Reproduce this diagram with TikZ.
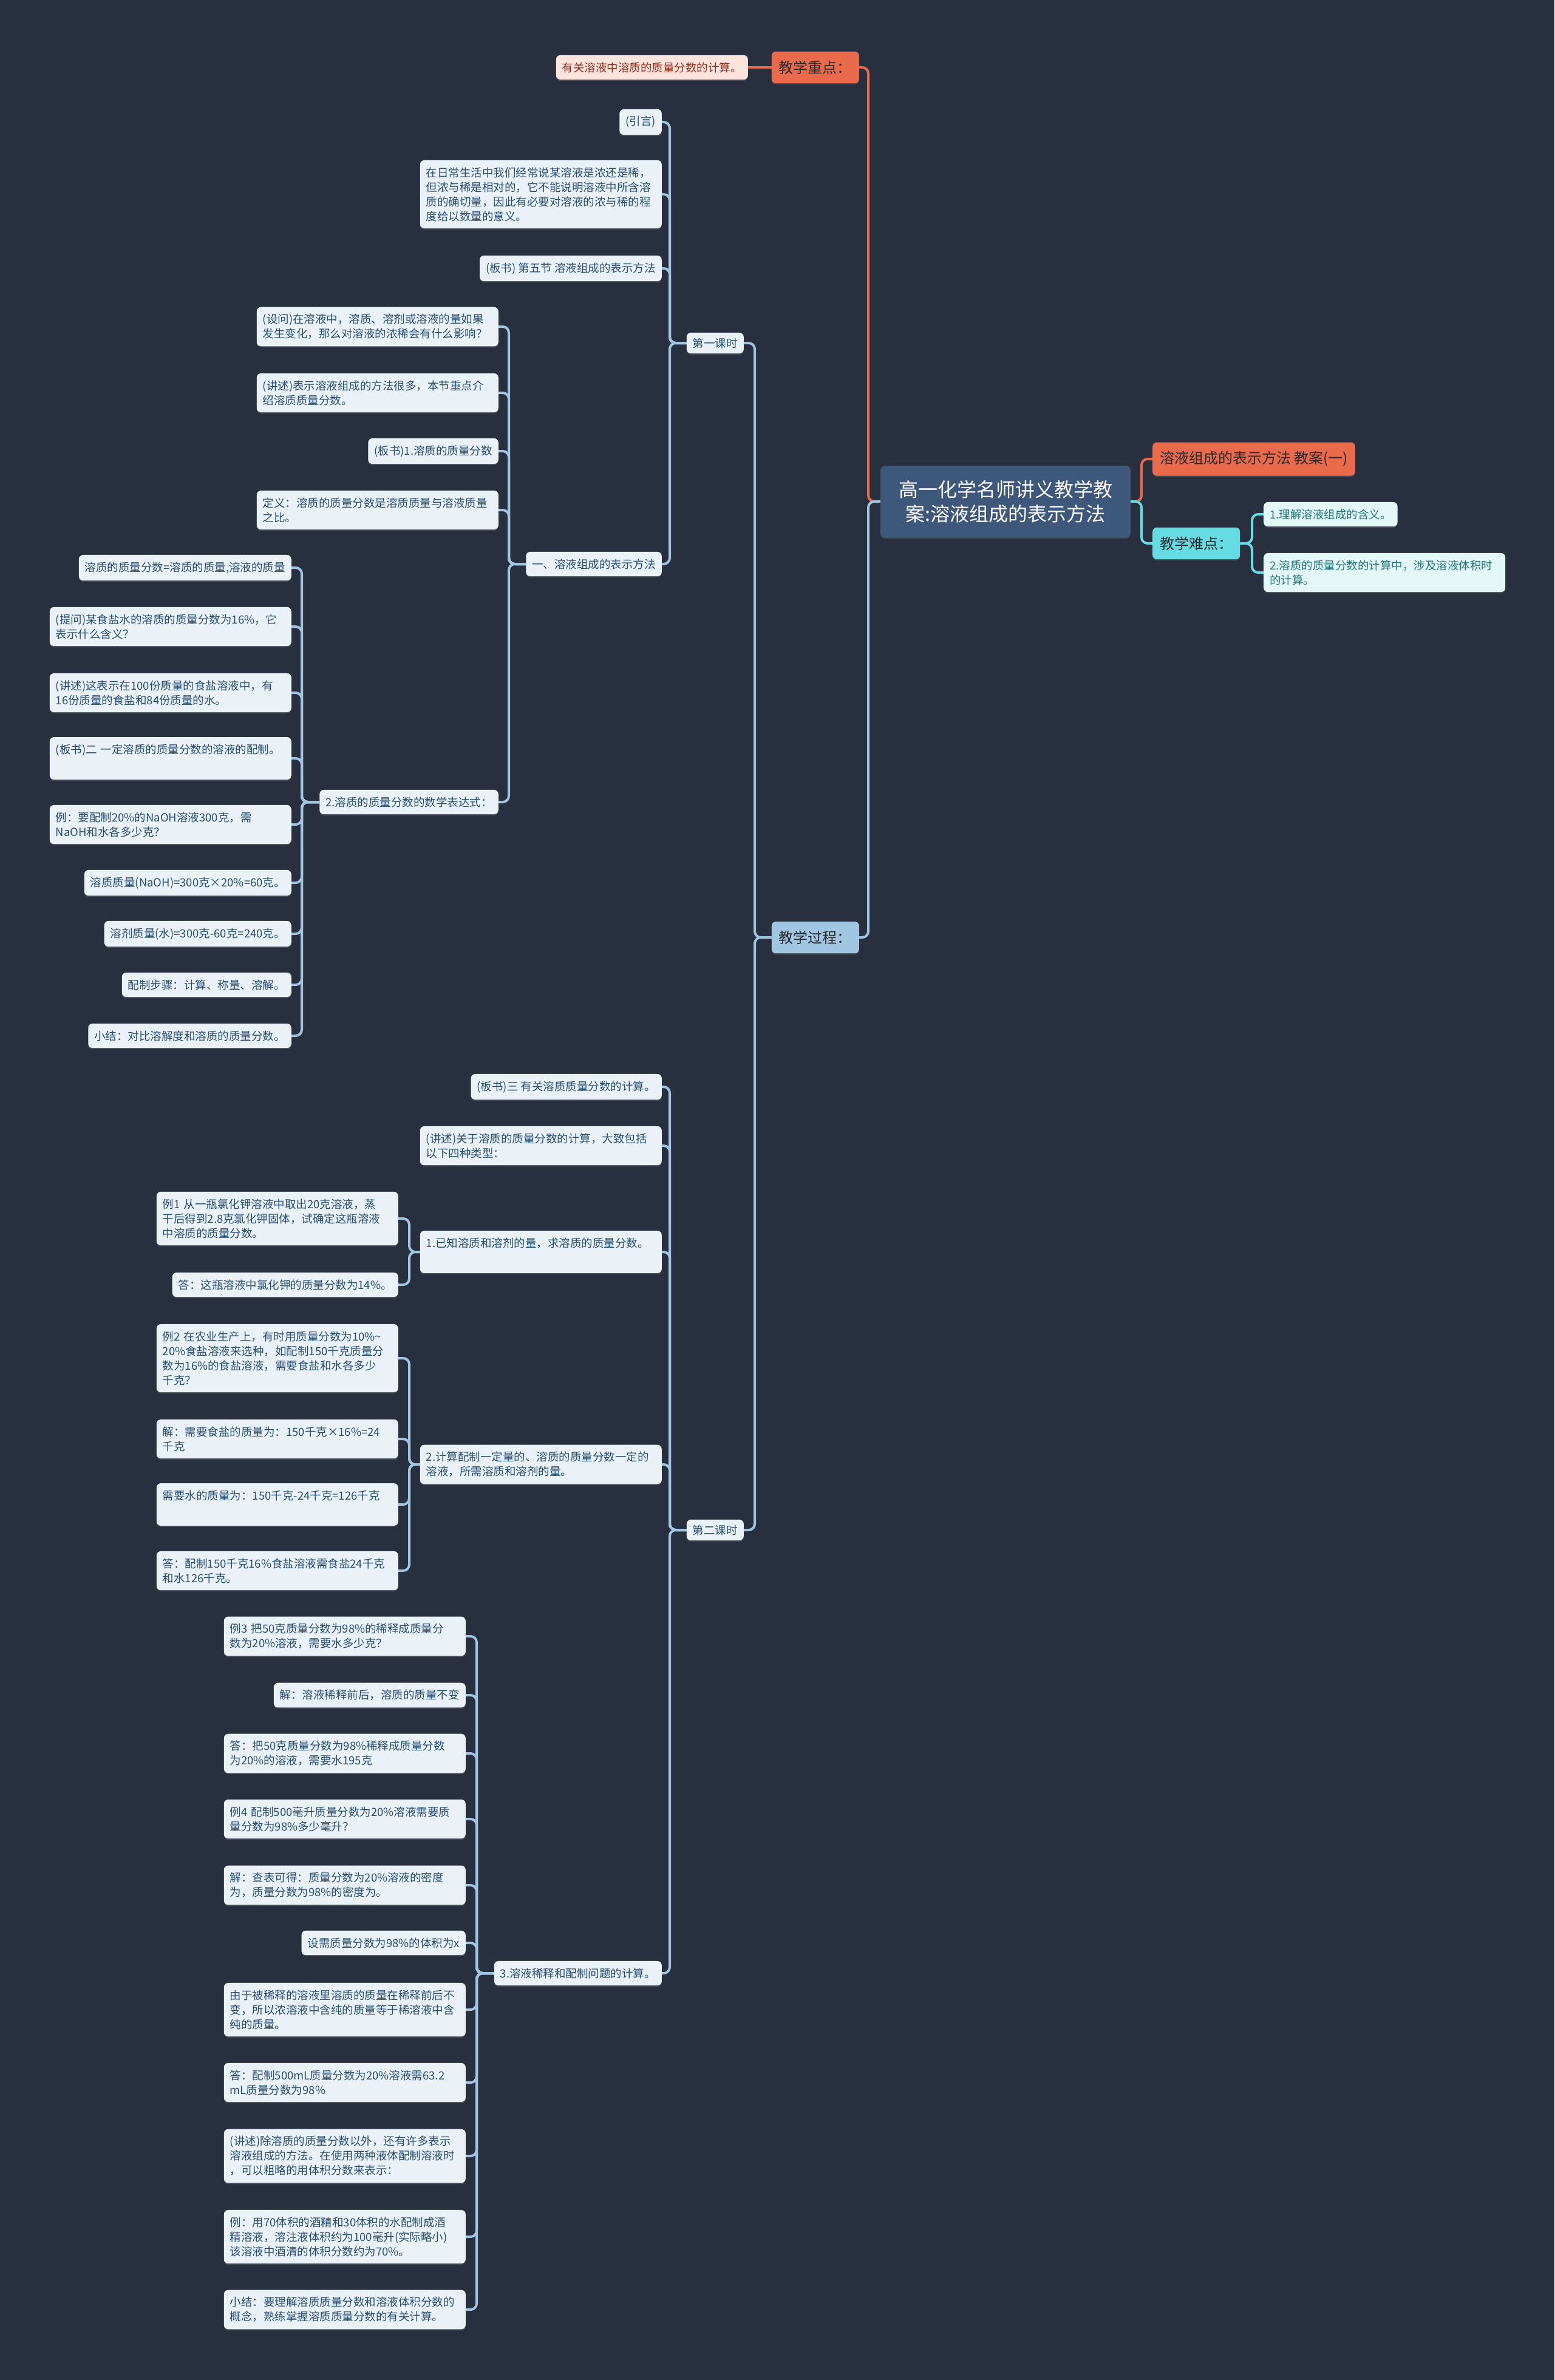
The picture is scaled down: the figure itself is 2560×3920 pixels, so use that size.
\documentclass[tikz,border=0pt]{standalone}
\usepackage{fontspec}
\setmainfont{Noto Sans CJK SC}
\usepackage{tikz}
\usetikzlibrary{positioning, shadows}
\definecolor{mapbg}{RGB}{40,48,63}
\definecolor{rootfill}{RGB}{62,88,124}
\definecolor{maporange}{RGB}{234,106,76}
\definecolor{mappink}{RGB}{253,228,220}
\definecolor{pinktext}{RGB}{140,45,28}
\definecolor{mapcyan}{RGB}{100,220,226}
\definecolor{cyanfill}{RGB}{229,248,248}
\definecolor{cyantext}{RGB}{32,118,124}
\definecolor{mapblue}{RGB}{160,198,225}
\definecolor{bluefill}{RGB}{234,242,248}
\definecolor{bluetext}{RGB}{40,78,112}
\definecolor{linkblue}{RGB}{160,197,226}
\definecolor{darktext}{RGB}{38,40,46}
\tikzset{
  %% ---- boxes ----
  rootbox/.style = {rectangle, rounded corners=8pt, fill=rootfill,
                    text=white, align=center, minimum width=412pt,
                    minimum height=118pt, font=\fontsize{32}{40}\selectfont,
                    drop shadow={shadow xshift=0pt, shadow yshift=-2pt, opacity=.35}},
  topic/.style   = {rectangle, rounded corners=7pt, fill=#1,
                    text=darktext, inner xsep=12pt, inner ysep=15pt,
                    font=\fontsize{24}{30}\selectfont,
                    drop shadow={shadow xshift=0pt, shadow yshift=-2pt, opacity=.35}},
  leaf/.style    = {rectangle, rounded corners=7pt, fill=bluefill,
                    text=bluetext, inner xsep=10pt, inner ysep=11.5pt,
                    font=\fontsize{18.5}{24}\selectfont, anchor=east,
                    drop shadow={shadow xshift=0pt, shadow yshift=-2pt, opacity=.35}},
  wide/.style    = {text width=378pt, align=left},
  lesson/.style  = {leaf, inner ysep=8.5pt},
  pinkleaf/.style = {leaf, fill=mappink, text=pinktext},
  cyanleaf/.style = {leaf, fill=cyanfill, text=cyantext, anchor=west},
}
\begin{document}
\begin{tikzpicture}[x=1pt, y=-1pt,
  link/.style = {line width=4pt, rounded corners=10pt, color=#1}
]
\fill[mapbg] (0,0) rectangle (2560,3920);
\useasboundingbox (0,0) rectangle (2560,3920);

% root and the right side
\node[rootbox] (root) at (1656,826) {高一化学名师讲义教学教\\案:溶液组成的表示方法};
\node[topic=maporange, anchor=west] (plan) at (1898,756) {溶液组成的表示方法 教案(一)};
\node[topic=mapcyan, anchor=west] (nandian) at (1898,895) {教学难点：};
\node[cyanleaf] (nd1) at (2081,847) {1.理解溶液组成的含义。};
\node[cyanleaf, wide] (nd2) at (2081,943) {2.溶质的质量分数的计算中，涉及溶液体积时\\的计算。};

% left side, top level
\node[topic=maporange, anchor=east] (zhongdian) at (1415,111) {教学重点：};
\node[pinkleaf] (zd1) at (1232,111) {有关溶液中溶质的质量分数的计算。};
\node[topic=mapblue, anchor=east] (guocheng) at (1415,1544) {教学过程：};
\node[lesson] (lesson1) at (1225,565) {第一课时};
\node[lesson] (lesson2) at (1225,2520) {第二课时};

% first lesson
\node[leaf] (yinyan) at (1090,201) {(引言)};
\node[leaf, wide] (richang) at (1090,320) {在日常生活中我们经常说某溶液是浓还是稀，\\但浓与稀是相对的，它不能说明溶液中所含溶\\质的确切量，因此有必要对溶液的浓与稀的程\\度给以数量的意义。};
\node[leaf] (bsfive) at (1090,442) {(板书) 第五节 溶液组成的表示方法};
\node[leaf] (partone) at (1090,929) {一、溶液组成的表示方法};

\node[leaf, wide] (shewen) at (821,538) {(设问)在溶液中，溶质、溶剂或溶液的量如果\\发生变化，那么对溶液的浓稀会有什么影响？};
\node[leaf, wide] (jiangshu) at (821,647) {(讲述)表示溶液组成的方法很多，本节重点介\\绍溶质质量分数。};
\node[leaf] (bsone) at (821,743) {(板书)1.溶质的质量分数};
\node[leaf, wide] (dingyi) at (821,840) {定义：溶质的质量分数是溶质质量与溶液质量\\之比。};
\node[leaf] (expr) at (821,1321) {2.溶质的质量分数的数学表达式：};

\node[leaf] (formula) at (480,935) {溶质的质量分数=溶质的质量,溶液的质量};
\node[leaf, wide] (tiwen) at (480,1032) {(提问)某食盐水的溶质的质量分数为16\%，它\\表示什么含义？};
\node[leaf, wide] (hundred) at (480,1141) {(讲述)这表示在100份质量的食盐溶液中，有\\16份质量的食盐和84份质量的水。};
\node[leaf, wide] (bstwo) at (480,1249) {(板书)二 一定溶质的质量分数的溶液的配制。\\ \strut};
\node[leaf, wide] (naohq) at (480,1358) {例：要配制20\%的NaOH溶液300克，需\\NaOH和水各多少克？};
\node[leaf] (naoh) at (480,1454) {溶质质量(NaOH)=300克×20\%=60克。};
\node[leaf] (water) at (480,1538) {溶剂质量(水)=300克-60克=240克。};
\node[leaf] (steps) at (480,1622) {配制步骤：计算、称量、溶解。};
\node[leaf] (summary1) at (480,1706) {小结：对比溶解度和溶质的质量分数。};

% second lesson
\node[leaf] (bsthree) at (1090,1790) {(板书)三 有关溶质质量分数的计算。};
\node[leaf, wide] (fourtypes) at (1090,1887) {(讲述)关于溶质的质量分数的计算，大致包括\\以下四种类型：};
\node[leaf, wide] (typeone) at (1090,2062) {1.已知溶质和溶剂的量，求溶质的质量分数。\\ \strut};
\node[leaf, wide] (typetwo) at (1090,2412) {2.计算配制一定量的、溶质的质量分数一定的\\溶液，所需溶质和溶剂的量。};
\node[leaf] (typethree) at (1090,3250) {3.溶液稀释和配制问题的计算。};

\node[leaf, wide] (ex1) at (656,2007) {例1 从一瓶氯化钾溶液中取出20克溶液，蒸\\干后得到2.8克氯化钾固体，试确定这瓶溶液\\中溶质的质量分数。};
\node[leaf] (ans1) at (656,2116) {答：这瓶溶液中氯化钾的质量分数为14\%。};

\node[leaf, wide] (ex2) at (656,2237) {例2 在农业生产上，有时用质量分数为10\%\textasciitilde\\20\%食盐溶液来选种，如配制150千克质量分\\数为16\%的食盐溶液，需要食盐和水各多少\\千克？};
\node[leaf, wide] (sol2) at (656,2370) {解：需要食盐的质量为：150千克×16\%=24\\千克};
\node[leaf, wide] (water2) at (656,2478) {需要水的质量为：150千克-24千克=126千克\\ \strut};
\node[leaf, wide] (ans2) at (656,2587) {答：配制150千克16\%食盐溶液需食盐24千克\\和水126千克。};

\node[leaf, wide] (ex3) at (767,2695) {例3 把50克质量分数为98\%的稀释成质量分\\数为20\%溶液，需要水多少克？};
\node[leaf] (sol3) at (767,2792) {解：溶液稀释前后，溶质的质量不变};
\node[leaf, wide] (ans3) at (767,2888) {答：把50克质量分数为98\%稀释成质量分数\\为20\%的溶液，需要水195克};
\node[leaf, wide] (ex4) at (767,2996) {例4 配制500毫升质量分数为20\%溶液需要质\\量分数为98\%多少毫升？};
\node[leaf, wide] (sol4) at (767,3105) {解：查表可得：质量分数为20\%溶液的密度\\为，质量分数为98\%的密度为。};
\node[leaf] (setx) at (767,3200) {设需质量分数为98\%的体积为x};
\node[leaf, wide] (reason) at (767,3310) {由于被稀释的溶液里溶质的质量在稀释前后不\\变，所以浓溶液中含纯的质量等于稀溶液中含\\纯的质量。};
\node[leaf, wide] (ans4) at (767,3430) {答：配制500mL质量分数为20\%溶液需63.2\\mL质量分数为98\%};
\node[leaf, wide] (volume) at (767,3551) {(讲述)除溶质的质量分数以外，还有许多表示\\溶液组成的方法。在使用两种液体配制溶液时\\，可以粗略的用体积分数来表示：};
\node[leaf, wide] (ex5) at (767,3684) {例：用70体积的酒精和30体积的水配制成酒\\精溶液，溶注液体积约为100毫升(实际略小)\\该溶液中酒清的体积分数约为70\%。};
\node[leaf, wide] (summary2) at (767,3804) {小结：要理解溶质质量分数和溶液体积分数的\\概念，熟练掌握溶质质量分数的有关计算。};

% connectors, right side
\draw[link=maporange] (plan.west) -- ++(-18,0) |- (root.east);
\draw[link=mapcyan] (nandian.west) -- ++(-18,0) |- (root.east);
\draw[link=mapcyan] (nd1.west) -- ++(-19,0) |- (nandian.east);
\draw[link=mapcyan] (nd2.west) -- ++(-19,0) |- (nandian.east);

% connectors, left side
\draw[link=maporange] (zhongdian.east) -- ++(15,0) |- (root.west);
\draw[link=linkblue] (guocheng.east) -- ++(15,0) |- (root.west);
\draw[link=maporange] (zd1.east) -- (zhongdian.west);
\draw[link=linkblue] (lesson1.east) -- ++(18,0) |- (guocheng.west);
\draw[link=linkblue] (lesson2.east) -- ++(18,0) |- (guocheng.west);

\draw[link=linkblue] (yinyan.east) -- ++(13,0) |- (lesson1.west);
\draw[link=linkblue] (richang.east) -- ++(13,0) |- (lesson1.west);
\draw[link=linkblue] (bsfive.east) -- ++(13,0) |- (lesson1.west);
\draw[link=linkblue] (partone.east) -- ++(13,0) |- (lesson1.west);

\draw[link=linkblue] (shewen.east) -- ++(17,0) |- (partone.west);
\draw[link=linkblue] (jiangshu.east) -- ++(17,0) |- (partone.west);
\draw[link=linkblue] (bsone.east) -- ++(17,0) |- (partone.west);
\draw[link=linkblue] (dingyi.east) -- ++(17,0) |- (partone.west);
\draw[link=linkblue] (expr.east) -- ++(17,0) |- (partone.west);

\draw[link=linkblue] (formula.east) -- ++(17,0) |- (expr.west);
\draw[link=linkblue] (tiwen.east) -- ++(17,0) |- (expr.west);
\draw[link=linkblue] (hundred.east) -- ++(17,0) |- (expr.west);
\draw[link=linkblue] (bstwo.east) -- ++(17,0) |- (expr.west);
\draw[link=linkblue] (naohq.east) -- ++(17,0) |- (expr.west);
\draw[link=linkblue] (naoh.east) -- ++(17,0) |- (expr.west);
\draw[link=linkblue] (water.east) -- ++(17,0) |- (expr.west);
\draw[link=linkblue] (steps.east) -- ++(17,0) |- (expr.west);
\draw[link=linkblue] (summary1.east) -- ++(17,0) |- (expr.west);

\draw[link=linkblue] (bsthree.east) -- ++(13,0) |- (lesson2.west);
\draw[link=linkblue] (fourtypes.east) -- ++(13,0) |- (lesson2.west);
\draw[link=linkblue] (typeone.east) -- ++(13,0) |- (lesson2.west);
\draw[link=linkblue] (typetwo.east) -- ++(13,0) |- (lesson2.west);
\draw[link=linkblue] (typethree.east) -- ++(13,0) |- (lesson2.west);

\draw[link=linkblue] (ex1.east) -- ++(18,0) |- (typeone.west);
\draw[link=linkblue] (ans1.east) -- ++(18,0) |- (typeone.west);

\draw[link=linkblue] (ex2.east) -- ++(18,0) |- (typetwo.west);
\draw[link=linkblue] (sol2.east) -- ++(18,0) |- (typetwo.west);
\draw[link=linkblue] (water2.east) -- ++(18,0) |- (typetwo.west);
\draw[link=linkblue] (ans2.east) -- ++(18,0) |- (typetwo.west);

\draw[link=linkblue] (ex3.east) -- ++(18,0) |- (typethree.west);
\draw[link=linkblue] (sol3.east) -- ++(18,0) |- (typethree.west);
\draw[link=linkblue] (ans3.east) -- ++(18,0) |- (typethree.west);
\draw[link=linkblue] (ex4.east) -- ++(18,0) |- (typethree.west);
\draw[link=linkblue] (sol4.east) -- ++(18,0) |- (typethree.west);
\draw[link=linkblue] (setx.east) -- ++(18,0) |- (typethree.west);
\draw[link=linkblue] (reason.east) -- ++(18,0) |- (typethree.west);
\draw[link=linkblue] (ans4.east) -- ++(18,0) |- (typethree.west);
\draw[link=linkblue] (volume.east) -- ++(18,0) |- (typethree.west);
\draw[link=linkblue] (ex5.east) -- ++(18,0) |- (typethree.west);
\draw[link=linkblue] (summary2.east) -- ++(18,0) |- (typethree.west);

\end{tikzpicture}
\end{document}
